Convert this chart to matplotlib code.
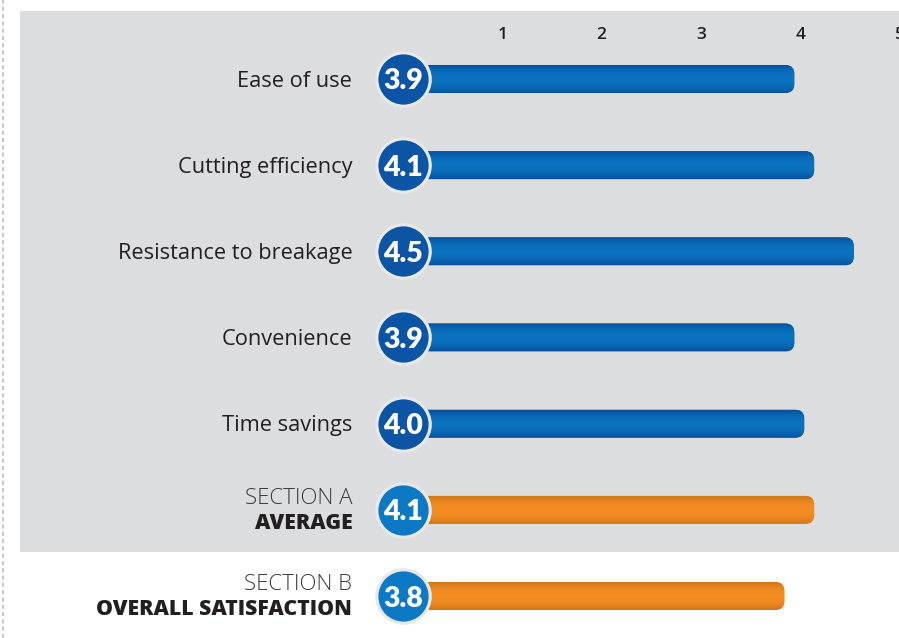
import numpy as np
import matplotlib
matplotlib.use("Agg")
import matplotlib.pyplot as plt
from matplotlib.patches import FancyBboxPatch, Rectangle
from matplotlib.lines import Line2D
from matplotlib.colors import to_rgb

# --- data ---
items = ["Ease of use", "Cutting efficiency", "Resistance to breakage",
         "Convenience", "Time savings"]
item_scores = [3.9, 4.1, 4.5, 3.9, 4.0]
summary_top = ["SECTION A", "SECTION B"]
summary_bottom = ["AVERAGE", "OVERALL SATISFACTION"]
summary_scores = [4.1, 3.8]
xticks = [1, 2, 3, 4, 5]

FONT = "Open Sans"
NUM_FONT = "Lato"
TEXT = "#231f20"
BLUE_EDGE, BLUE_MID = "#04509f", "#0b73bf"
ORANGE_EDGE, ORANGE_MID = "#cf7619", "#f48d22"
CIRCLE_DARK = "#0b55a4"
CIRCLE_LIGHT = "#0c79c4"
GRAY_BG = "#dcdddf"

W, H = 899, 638
fig = plt.figure(figsize=(W / 100, H / 100), dpi=100)
fig.patch.set_facecolor("white")

# gray panel behind section A + dashed page edge on the left
fig.patches.append(Rectangle((20 / W, 1 - 552 / H), 1 - 20 / W, (552 - 11) / H,
                             transform=fig.transFigure, facecolor=GRAY_BG,
                             edgecolor="none", zorder=-2))
fig.lines.append(Line2D([3 / W, 3 / W], [0, 1], transform=fig.transFigure,
                        color="#c9c9c9", lw=1.5, ls=(0, (2, 1.5)), zorder=-2))

# axes: x 0..5 maps to px 403..899.5, rows 86.2 px apart starting at y=79
ax = fig.add_axes([403 / W, -1.1 / H, 496.5 / W, 603.2 / H])
ax.set_facecolor("none")
ax.set_xlim(0, 5)
ax.set_ylim(6.5, -0.5)
for s in ax.spines.values():
    s.set_visible(False)
ax.set_yticks([])
ax.xaxis.tick_top()
ax.set_xticks(xticks)
ax.set_xticklabels([str(t) for t in xticks], fontfamily=FONT, fontsize=12.5,
                   color=TEXT, fontweight="semibold")
ax.tick_params(axis="x", length=0, pad=-5)

BAR_H = 28 / 86.2
RX = 9 / 99.3                      # rounding radius in x units
ASPECT = (9 / 86.2) / RX
CAP = 4 / 99.3                     # rounded end sticks out a little past the value


def gradient(edge, mid, n=64):
    t = np.linspace(-1, 1, n)
    w = (1 - t ** 2)[:, None]
    e, m = np.array(to_rgb(edge)), np.array(to_rgb(mid))
    return (e * (1 - w) + m * w)[:, None, :]


def bar(row, value, edge, mid):
    y0 = row - BAR_H / 2
    p = FancyBboxPatch((0, y0), value + CAP, BAR_H,
                       boxstyle=f"round,pad=0,rounding_size={RX}",
                       mutation_aspect=ASPECT, facecolor=mid,
                       edgecolor="none", zorder=2, clip_on=False)
    ax.add_patch(p)
    im = ax.imshow(gradient(edge, mid), extent=(0, value + CAP, y0 + BAR_H, y0),
                   aspect="auto", zorder=2.1, interpolation="bilinear")
    im.set_clip_path(p)


def badge(row, value, color):
    ax.scatter([0], [row], s=1480, color=color, edgecolors="#e8e8e9",
               linewidths=2.3, zorder=4, clip_on=False)
    ax.text(0, row, f"{value:.1f}", ha="center", va="center_baseline", color="white",
            fontfamily=NUM_FONT, fontsize=20.5, fontweight="heavy", zorder=5)


rows = list(range(len(items) + len(summary_scores)))

for i, (lab, v) in enumerate(zip(items, item_scores)):
    bar(rows[i], v, BLUE_EDGE, BLUE_MID)
    badge(rows[i], v, CIRCLE_DARK)
    ax.annotate(lab, xy=(0, rows[i]), xytext=(-36.5, -1.5), textcoords="offset points",
                ha="right", va="center", fontfamily=FONT, fontsize=15.7,
                fontweight="medium", color=TEXT, annotation_clip=False)

for j, (top, bot, v) in enumerate(zip(summary_top, summary_bottom, summary_scores)):
    r = rows[len(items) + j]
    bar(r, v, ORANGE_EDGE, ORANGE_MID)
    badge(r, v, CIRCLE_LIGHT)
    ax.annotate(top, xy=(0, r), xytext=(-36.5, 8.5), textcoords="offset points",
                ha="right", va="center", fontfamily=FONT, fontsize=16,
                fontweight="light", color="#3a3a3a", annotation_clip=False)
    ax.annotate(bot, xy=(0, r), xytext=(-36.5, -10), textcoords="offset points",
                ha="right", va="center", fontfamily=FONT, fontsize=15.3,
                fontweight="extra bold", color=TEXT, annotation_clip=False)

ax.set_xlim(0, 5)
ax.set_ylim(6.5, -0.5)

fig.savefig("out.png", dpi=100)
